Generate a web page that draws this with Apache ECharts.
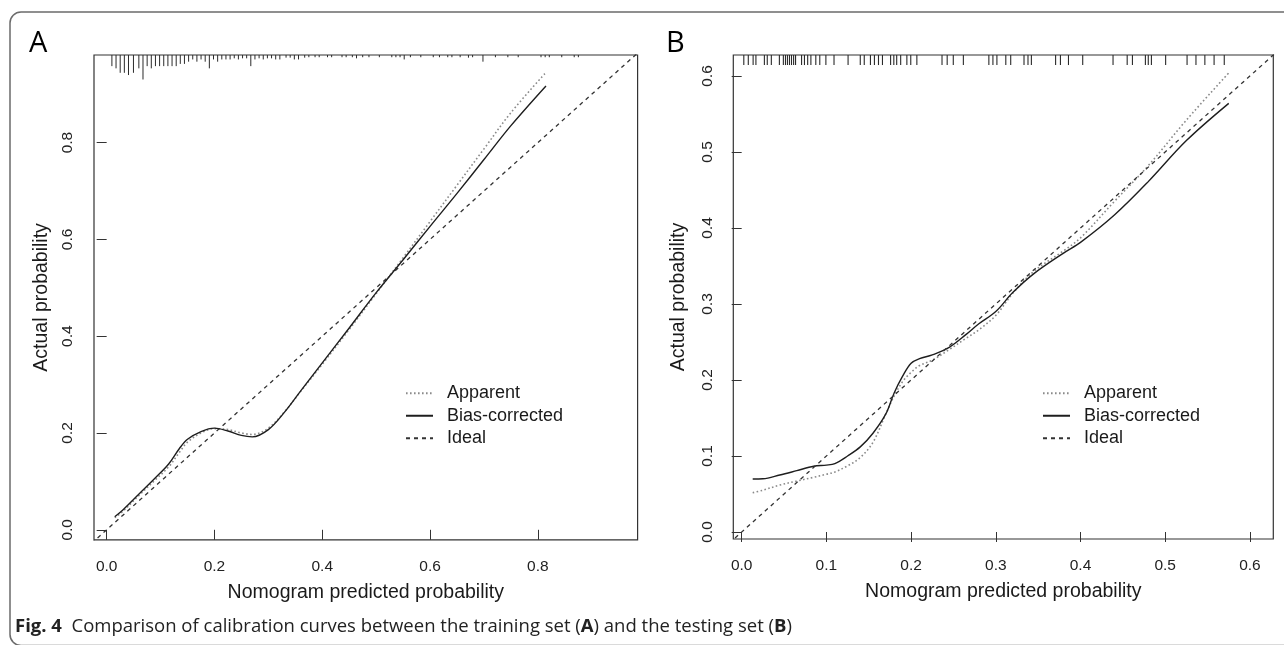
<!DOCTYPE html>
<html>
<head>
<meta charset="utf-8">
<script src="https://cdn.jsdelivr.net/npm/echarts@6/dist/echarts.min.js"></script>
<style>
html,body{margin:0;padding:0;background:#fff;}
#chart{width:1284px;height:645px;}
</style>
</head>
<body>
<div id="chart"></div>
<script>
// ---------- Panel A (training set) ----------
const ticksA = [0, 0.2, 0.4, 0.6, 0.8];
const predA = [0.015, 0.03, 0.06, 0.09, 0.115, 0.135, 0.15, 0.175, 0.2, 0.225, 0.25, 0.27, 0.3, 0.33, 0.36, 0.4, 0.45, 0.5, 0.55, 0.6, 0.65, 0.7, 0.75, 0.815];
const apparentA = [0.025, 0.038, 0.071, 0.103, 0.13, 0.16, 0.181, 0.2, 0.209, 0.207, 0.2, 0.197, 0.21, 0.244, 0.286, 0.342, 0.414, 0.488, 0.562, 0.637, 0.712, 0.787, 0.862, 0.945];
const biasA = [0.027, 0.041, 0.074, 0.107, 0.136, 0.168, 0.187, 0.203, 0.21, 0.204, 0.195, 0.192, 0.207, 0.243, 0.287, 0.345, 0.417, 0.49, 0.558, 0.627, 0.695, 0.765, 0.835, 0.917];
const idealA = [-0.05, 1.05];
// rug (distribution of predicted risk): position, frequency
const rugPosA = [0.0097, 0.0174, 0.0251, 0.0328, 0.0405, 0.0497, 0.0597, 0.0674, 0.0751, 0.0828, 0.0905, 0.0982, 0.1059, 0.1136, 0.1213, 0.129, 0.1366, 0.1443, 0.152, 0.1597, 0.1674, 0.1751, 0.1828, 0.1905, 0.1982, 0.2059, 0.2136, 0.2213, 0.229, 0.2367, 0.2444, 0.2521, 0.2597, 0.2674, 0.2751, 0.2828, 0.2905, 0.2982, 0.3059, 0.3136, 0.3213, 0.3328, 0.3405, 0.3482, 0.3559, 0.3674, 0.3751, 0.3866, 0.3943, 0.4097, 0.4174, 0.4366, 0.4443, 0.4558, 0.4635, 0.475, 0.4866, 0.5059, 0.529, 0.5366, 0.5443, 0.552, 0.5635, 0.5828, 0.6059, 0.6174, 0.6328, 0.6405, 0.6558, 0.6712, 0.6789, 0.6981, 0.7212, 0.7443, 0.7635, 0.8058, 0.8135, 0.8212, 0.8443, 0.8674, 0.8751];
const rugFreqA = [5, 6, 8, 8, 9, 8, 6, 11, 5, 6, 5, 5, 5, 5, 5, 5, 4, 4, 3, 2, 3, 2, 3, 6, 2, 3, 2, 2, 2, 1.5, 2, 1.5, 1.5, 5, 2, 1.5, 2, 1.5, 1.5, 2, 2, 1.2, 1.2, 2, 2, 1.2, 1, 1, 1, 1, 1, 1, 1, 1, 1.5, 1, 1, 1, 1, 1, 1, 2, 1, 1, 1, 1, 1, 1, 1, 1.2, 1, 3, 1, 1, 1, 1, 1, 1, 1, 1, 1];

// ---------- Panel B (testing set) ----------
const ticksB = [0, 0.1, 0.2, 0.3, 0.4, 0.5, 0.6];
const predB = [0.013, 0.025, 0.045, 0.065, 0.085, 0.1, 0.11, 0.125, 0.14, 0.155, 0.17, 0.18, 0.19, 0.2, 0.21, 0.225, 0.245, 0.265, 0.28, 0.3, 0.32, 0.345, 0.38, 0.4, 0.44, 0.48, 0.525, 0.575];
const apparentB = [0.0517, 0.055, 0.0618, 0.067, 0.072, 0.076, 0.079, 0.087, 0.098, 0.118, 0.155, 0.179, 0.198, 0.21, 0.219, 0.226, 0.24, 0.255, 0.266, 0.285, 0.314, 0.343, 0.37, 0.387, 0.435, 0.482, 0.542, 0.604];
const biasB = [0.0697, 0.07, 0.075, 0.0807, 0.0865, 0.088, 0.09, 0.1, 0.112, 0.13, 0.155, 0.183, 0.205, 0.222, 0.228, 0.233, 0.243, 0.26, 0.274, 0.29, 0.315, 0.34, 0.367, 0.381, 0.417, 0.461, 0.515, 0.564];
const idealB = [-0.05, 0.7];
const rugPosB = [0.0025, 0.0078, 0.0135, 0.0168, 0.0268, 0.0302, 0.035, 0.0445, 0.0492, 0.0517, 0.054, 0.0564, 0.0588, 0.0613, 0.0636, 0.0707, 0.0741, 0.0779, 0.0817, 0.0875, 0.0922, 0.0994, 0.109, 0.1256, 0.14, 0.1447, 0.152, 0.1567, 0.1615, 0.1662, 0.1758, 0.1796, 0.183, 0.1877, 0.195, 0.1996, 0.2068, 0.2365, 0.2426, 0.2498, 0.2617, 0.2918, 0.2966, 0.3013, 0.3118, 0.3176, 0.3333, 0.338, 0.342, 0.3706, 0.3763, 0.3858, 0.4026, 0.4384, 0.4551, 0.4613, 0.4766, 0.48, 0.4837, 0.5005, 0.5258, 0.5363, 0.5468, 0.5577, 0.5697];

const names = ['Apparent', 'Bias-corrected', 'Ideal'];

// ---------- helpers ----------
const FONT = '"Liberation Sans", Arial, sans-serif';
const CAPFONT = '"Open Sans", "Noto Sans", sans-serif';
const rangeA = {xmin: -0.0235, xmax: 0.985, ymin: -0.0207, ymax: 0.981};
const rangeB = {xmin: -0.0099, xmax: 0.6276, ymin: -0.0092, ymax: 0.6276};
const rugUnitA = 0.0046;
const rugLenB = 0.0132;

function zip(xs, ys) { return xs.map((x, i) => [x, ys[i]]); }

function xAxisFor(idx, r, ticks) {
  return {
    type: 'value', gridIndex: idx, min: r.xmin, max: r.xmax,
    name: 'Nomogram predicted probability', nameLocation: 'middle', nameGap: 43,
    nameTextStyle: {fontFamily: FONT, fontSize: 19.5, color: '#1a1a1a'},
    axisLine: {show: false},
    axisTick: {show: true, length: 10, customValues: ticks, lineStyle: {color: '#333', width: 1}},
    axisLabel: {customValues: ticks, margin: 19, fontFamily: FONT, fontSize: 15.5, color: '#222',
      formatter: v => v.toFixed(1)},
    splitLine: {show: false}
  };
}
function yAxisFor(idx, r, ticks, gap) {
  return {
    type: 'value', gridIndex: idx, min: r.ymin, max: r.ymax,
    name: 'Actual probability', nameLocation: 'middle', nameGap: gap,
    nameTextStyle: {fontFamily: FONT, fontSize: 19.5, color: '#1a1a1a'},
    axisLine: {show: false},
    axisTick: {show: true, length: 10, customValues: ticks, lineStyle: {color: '#333', width: 1}},
    axisLabel: {customValues: ticks, rotate: 90, margin: 18, fontFamily: FONT, fontSize: 15.5, color: '#222',
      formatter: v => v.toFixed(1)},
    splitLine: {show: false}
  };
}
function curveSeries(idx, name, data, style) {
  return {
    type: 'line', name: name, xAxisIndex: idx, yAxisIndex: idx, data: data,
    showSymbol: false, symbol: 'none', smooth: 0.35, clip: true, z: 3,
    lineStyle: style, itemStyle: {color: style.color}, emphasis: {disabled: true}
  };
}
const apparentStyle = {color: '#8a8a8a', width: 1.6, type: [1.6, 2.4]};
const biasStyle = {color: '#1e1e1e', width: 1.4, type: 'solid'};
const idealStyle = {color: '#333', width: 1.3, type: [4, 4]};

function rugSeries(idx, data, ymax, lenFn, width) {
  return {
    type: 'custom', xAxisIndex: idx, yAxisIndex: idx, data: data, z: 4, silent: true,
    encode: {x: 0, y: 1},
    renderItem: function (params, api) {
      const x = api.value(0);
      const p1 = api.coord([x, ymax]);
      const p2 = api.coord([x, ymax - lenFn(api.value(1))]);
      return {type: 'line', shape: {x1: p1[0], y1: p1[1], x2: p2[0], y2: p2[1]},
        style: {stroke: '#2a2a2a', lineWidth: width}};
    }
  };
}

const chart = echarts.init(document.getElementById('chart'), null, {renderer: 'canvas'});

const legendCommon = {
  orient: 'vertical', top: 382, padding: 0, itemWidth: 27, itemHeight: 14, itemGap: 0,
  selectedMode: false, data: names,
  itemStyle: {opacity: 0},
  textStyle: {fontFamily: FONT, fontSize: 18, color: '#1a1a1a', lineHeight: 22.5, padding: [0, 0, 0, 9]}
};

const option = {
  animation: false,
  backgroundColor: '#fff',
  grid: [
    {left: 94, top: 55, width: 543.6, height: 484.8, show: true, borderColor: '#333', borderWidth: 1.2, backgroundColor: 'transparent'},
    {left: 733.3, top: 55, width: 540, height: 484, show: true, borderColor: '#333', borderWidth: 1.2, backgroundColor: 'transparent'}
  ],
  xAxis: [xAxisFor(0, rangeA, ticksA), xAxisFor(1, rangeB, ticksB)],
  yAxis: [yAxisFor(0, rangeA, ticksA, 42), yAxisFor(1, rangeB, ticksB, 45)],
  legend: [
    Object.assign({}, legendCommon, {left: 405}),
    Object.assign({}, legendCommon, {left: 1042})
  ],
  series: [
    curveSeries(0, 'Apparent', zip(predA, apparentA), apparentStyle),
    curveSeries(0, 'Bias-corrected', zip(predA, biasA), biasStyle),
    Object.assign(curveSeries(0, 'Ideal', zip(idealA, idealA), idealStyle), {smooth: false}),
    rugSeries(0, zip(rugPosA, rugFreqA), rangeA.ymax, v => v * rugUnitA, 1),
    curveSeries(1, 'Apparent', zip(predB, apparentB), apparentStyle),
    curveSeries(1, 'Bias-corrected', zip(predB, biasB), biasStyle),
    Object.assign(curveSeries(1, 'Ideal', zip(idealB, idealB), idealStyle), {smooth: false}),
    rugSeries(1, rugPosB.map(x => [x, 1]), rangeB.ymax, v => rugLenB, 1.1)
  ],
  graphic: [
    {type: 'rect', silent: true, z: 0,
      shape: {x: 10, y: 12, width: 1300, height: 633.5, r: 11},
      style: {fill: 'none', stroke: '#6b6b6b', lineWidth: 1.5}},
    {type: 'text', left: 29, top: 29, silent: true,
      style: {text: 'A', fontFamily: CAPFONT, fontSize: 29, fill: '#000'}},
    {type: 'text', left: 666, top: 29, silent: true,
      style: {text: 'B', fontFamily: CAPFONT, fontSize: 29, fill: '#000'}},
    {type: 'text', left: 15, top: 617, silent: true,
      style: {
        text: '{b|Fig. 4}  Comparison of calibration curves between the training set ({b|A}) and the testing set ({b|B})',
        fontFamily: CAPFONT, fontSize: 18.5, fill: '#222',
        rich: {b: {fontWeight: 'bold', fontFamily: CAPFONT, fontSize: 18.5, fill: '#222'}}
      }}
  ]
};
chart.setOption(option);
</script>
</body>
</html>
